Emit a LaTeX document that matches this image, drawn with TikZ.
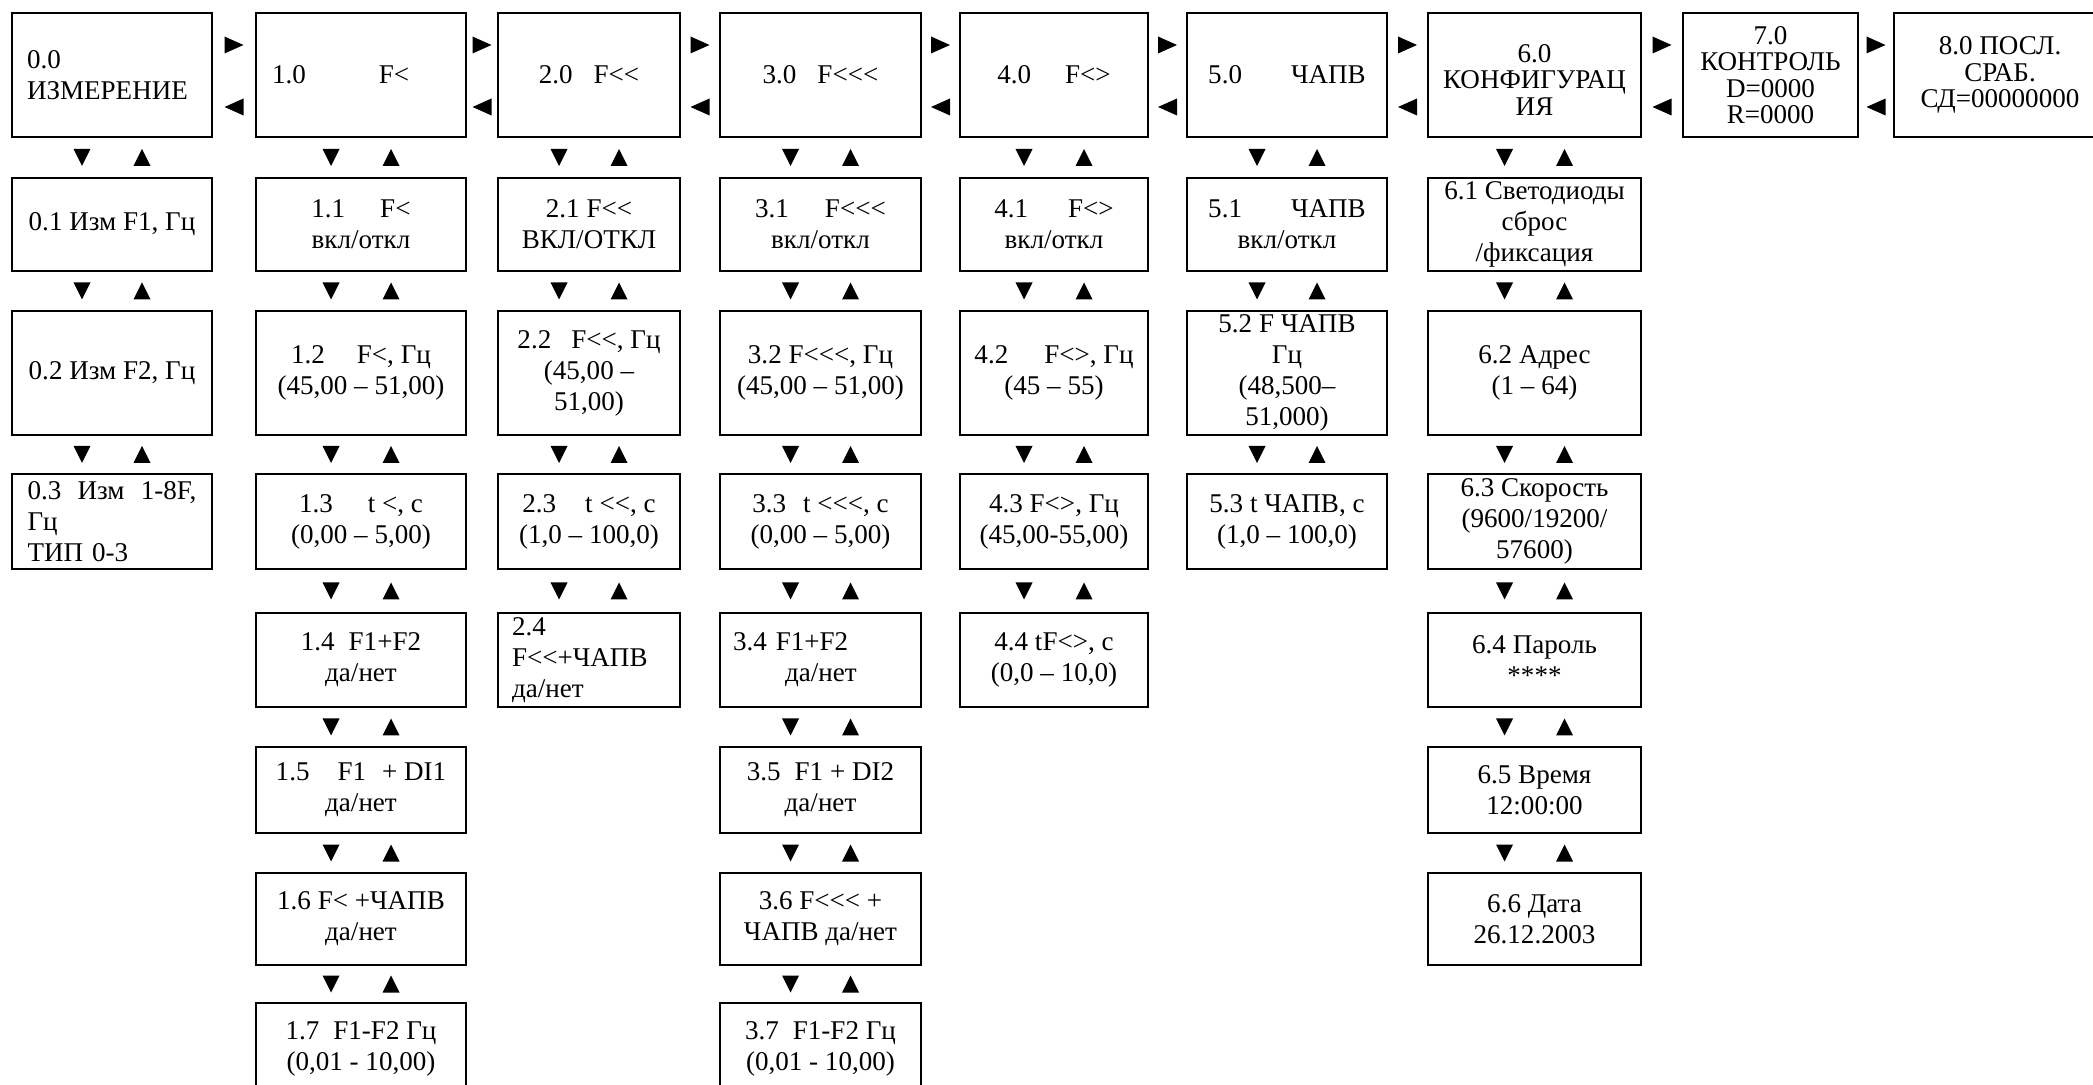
\documentclass[tikz,border=0pt]{standalone}
\usepackage{fontspec}
\setmainfont{Liberation Serif}[Ligatures=TeXOff]
\usepackage{tikz}
\usetikzlibrary{calc}
\newcommand{\scrfont}{\fontsize{7.7}{8.8}\selectfont}
\newcommand{\tightfont}{\fontsize{7.7}{7.5}\selectfont}

\begin{document}
\begin{tikzpicture}[x=0.1mm,y=-0.1mm,
	scr/.style={draw,line width=0.6pt,inner sep=0pt,align=center,font=\scrfont},
	c0/.style={minimum width=20mm},c1/.style={minimum width=21mm},
	c2/.style={minimum width=18.2mm},c3/.style={minimum width=20.1mm},
	c4/.style={minimum width=18.8mm},c5/.style={minimum width=20mm},
	c6/.style={minimum width=21.3mm},c7/.style={minimum width=17.5mm},
	c8/.style={minimum width=21.2mm},
	r0/.style={minimum height=12.4mm},r1/.style={minimum height=9.3mm},
	r2/.style={minimum height=12.4mm},r3/.style={minimum height=9.5mm},
	r4/.style={minimum height=9.4mm},r5/.style={minimum height=8.6mm},
	r6/.style={minimum height=9.2mm},r7/.style={minimum height=9.2mm}]
			\useasboundingbox (0,0) rectangle (2093,1085);
			% Столбец 0
			\node[scr,c0,r0,align=left,text width=17mm] (s00) at (112,75) {0.0\\ИЗМЕРЕНИЕ};
			\node[scr,c0,r1] (s01) at (112,224.5) {0.1 Изм F1, Гц};
			\node[scr,c0,r2] (s02) at (112,373) {0.2 Изм F2, Гц};
			\node[scr,c0,r3,align=left,text width=16.9mm] (s03) at (112,521.5) {0.3\hfill Изм\hfill 1-8F,\\Гц\\ТИП 0-3};
			% Столбец 1
			\node[scr,c1,r0,align=left,text width=17.8mm] (s10) at (361,75) {1.0\hspace{7.3mm}F<};
			\node[scr,c1,r1] (s11) at (361,224.5) {1.1\hspace{3.5mm}F<\\вкл/откл};
			\node[scr,c1,r2] (s12) at (361,373) {1.2\hspace{3.2mm}F<, Гц\\(45,00 – 51,00)};
			\node[scr,c1,r3] (s13) at (361,521.5) {1.3\hspace{3.5mm}t <, с\\(0,00 – 5,00)};
			\node[scr,c1,r4] (s14) at (361,660) {1.4\hspace{1.4mm}F1+F2\\да/нет};
			\node[scr,c1,r5] (s15) at (361,790) {1.5\hspace{2.8mm}F1\hspace{1.6mm}+ DI1\\да/нет};
			\node[scr,c1,r6] (s16) at (361,919) {1.6 F< +ЧАПВ\\да/нет};
			\node[scr,c1,r7] (s17) at (361,1049) {1.7\hspace{1.4mm}F1-F2 Гц\\(0,01 - 10,00)};
			% Столбец 2
			\node[scr,c2,r0] (s20) at (589,75) {2.0\hspace{2.1mm}F<<};
			\node[scr,c2,r1] (s21) at (589,224.5) {2.1 F<<\\ВКЛ/ОТКЛ};
			\node[scr,c2,r2] (s22) at (589,373) {2.2\hspace{2mm}F<<, Гц\\(45,00 –\\51,00)};
			\node[scr,c2,r3] (s23) at (589,521.5) {2.3\hspace{2.9mm}t <<, с\\(1,0 – 100,0)};
			\node[scr,c2,r4,align=left,text width=15.4mm] (s24) at (589,660) {2.4\\F<<+ЧАПВ\\да/нет};
			% Столбец 3
			\node[scr,c3,r0] (s30) at (820.5,75) {3.0\hspace{2.1mm}F<<<};
			\node[scr,c3,r1] (s31) at (820.5,224.5) {3.1\hspace{3.6mm}F<<<\\вкл/откл};
			\node[scr,c3,r2] (s32) at (820.5,373) {3.2 F<<<, Гц\\(45,00 – 51,00)};
			\node[scr,c3,r3] (s33) at (820.5,521.5) {3.3\hspace{1.7mm}t <<<, с\\(0,00 – 5,00)};
			\node[scr,c3,r4,align=left,text width=17.5mm] (s34) at (820.5,660) {3.4 F1+F2\\\hspace*{5.2mm}да/нет};
			\node[scr,c3,r5] (s35) at (820.5,790) {3.5\hspace{1.4mm}F1 + DI2\\да/нет};
			\node[scr,c3,r6] (s36) at (820.5,919) {3.6 F<<< +\\ЧАПВ да/нет};
			\node[scr,c3,r7] (s37) at (820.5,1049) {3.7\hspace{1.4mm}F1-F2 Гц\\(0,01 - 10,00)};
			% Столбец 4
			\node[scr,c4,r0] (s40) at (1054,75) {4.0\hspace{3.4mm}F<>};
			\node[scr,c4,r1] (s41) at (1054,224.5) {4.1\hspace{4mm}F<>\\вкл/откл};
			\node[scr,c4,r2] (s42) at (1054,373) {4.2\hspace{3.6mm}F<>, Гц\\(45 – 55)};
			\node[scr,c4,r3] (s43) at (1054,521.5) {4.3 F<>, Гц\\(45,00-55,00)};
			\node[scr,c4,r4] (s44) at (1054,660) {4.4 tF<>, с\\(0,0 – 10,0)};
			% Столбец 5
			\node[scr,c5,r0] (s50) at (1287,75) {5.0\hspace{4.9mm}ЧАПВ};
			\node[scr,c5,r1] (s51) at (1287,224.5) {5.1\hspace{4.9mm}ЧАПВ\\вкл/откл};
			\node[scr,c5,r2] (s52) at (1287,373) {5.2 F ЧАПВ\\Гц\\(48,500–\\51,000)};
			\node[scr,c5,r3] (s53) at (1287,521.5) {5.3 t ЧАПВ, с\\(1,0 – 100,0)};
			% Столбец 6
			\node[scr,c6,r0,font=\tightfont] (s60) at (1534.5,75) {\rule{0pt}{7.8pt}6.0\\КОНФИГУРАЦ\\ИЯ};
			\node[scr,c6,r1] (s61) at (1534.5,224.5) {6.1 Светодиоды\\сброс\\/фиксация};
			\node[scr,c6,r2] (s62) at (1534.5,373) {6.2 Адрес\\(1 – 64)};
			\node[scr,c6,r3] (s63) at (1534.5,521.5) {6.3 Скорость\\(9600/19200/\\57600)};
			\node[scr,c6,r4] (s64) at (1534.5,660) {6.4 Пароль\\****};
			\node[scr,c6,r5] (s65) at (1534.5,790) {6.5 Время\\12:00:00};
			\node[scr,c6,r6] (s66) at (1534.5,919) {6.6 Дата\\26.12.2003};
			% Столбцы 7 и 8
			\node[scr,c7,r0,font=\tightfont] (s70) at (1770.5,75) {7.0\\КОНТРОЛЬ\\D=0000\\R=0000};
			\node[scr,c8,r0,font=\tightfont] (s80) at (2000,75) {8.0 ПОСЛ.\\СРАБ.\\СД=00000000};
			% Стрелки вправо / влево
			\foreach \a/\b in {s00/s10,s10/s20,s20/s30,s30/s40,s40/s50,s50/s60,s60/s70,s70/s80} {
				\coordinate (m) at ($(\a.east)!0.5!(\b.west)$);
				\fill ($(m)+(0,-30)$) ++(-9.5,-8.5) -- ++(0,17) -- ++(19,-8.5) -- cycle;
				\fill ($(m)+(0,32)$) ++(9.5,-8.5) -- ++(0,17) -- ++(-19,-8.5) -- cycle;
			}
			% Стрелки вниз / вверх
			\foreach \c/\n in {0/3,1/7,2/4,3/7,4/4,5/3,6/6} {
				\foreach \r [remember=\r as \p (initially 0)] in {1,...,\n} {
					\coordinate (m) at ($(s\c\p.south)!0.5!(s\c\r.north)$);
					\fill ($(m)+(-30,0)$) ++(-8.5,-8.5) -- ++(17,0) -- ++(-8.5,17) -- cycle;
					\fill ($(m)+(30,0)$) ++(-8.5,8.5) -- ++(17,0) -- ++(-8.5,-17) -- cycle;
				}
			}
		\end{tikzpicture}
\end{document}
